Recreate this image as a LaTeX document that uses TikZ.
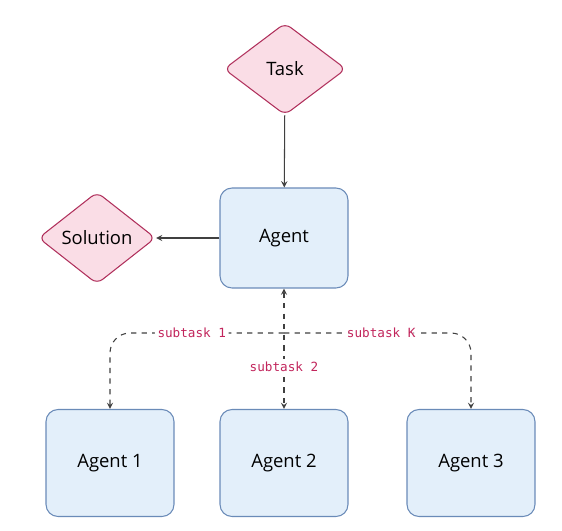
\documentclass[tikz,border=0pt]{standalone}
\usepackage{fontspec}
\setmainfont{Open Sans}
\setmonofont{DejaVu Sans Mono}
\usepackage{xcolor}
\usepackage{tikz}
\usetikzlibrary{shapes.geometric, arrows, positioning}
\definecolor{pinkfill}{HTML}{FADDE6}
\definecolor{pinkline}{HTML}{B0305C}
\definecolor{bluefill}{HTML}{E3EFFA}
\definecolor{blueline}{HTML}{6A8BB8}
\definecolor{labelred}{HTML}{C2255C}
\tikzstyle{decision} = [diamond, rounded corners=4pt, minimum width=2.44cm, minimum height=1.84cm, inner sep=0pt, text centered, draw=pinkline, fill=pinkfill, line width=0.6pt, font=\fontsize{10.5}{12}\selectfont]
\tikzstyle{agentbox} = [rectangle, rounded corners=0.24cm, minimum width=2.56cm, minimum height=2cm, text centered, draw=blueline, fill=bluefill, line width=0.6pt, font=\fontsize{10.5}{12}\selectfont]
\tikzstyle{arrow} = [line width=0.6pt, ->, >=stealth, draw=black!75]
\tikzstyle{dasharrow} = [line width=0.6pt, ->, >=stealth, draw=black!75, dashed]
\tikzstyle{sublabel} = [fill=white, inner sep=1.5pt, text=labelred, font=\ttfamily\fontsize{7.2}{8}\selectfont]

\begin{document}
\begin{tikzpicture}[x=0.02cm, y=-0.02cm]
\useasboundingbox (0,0) rectangle (562,531);

\node (task) [decision] at (285,69) {Task};
\node (agent) [agentbox] at (284,238) {Agent};
\node (solution) [decision, minimum width=2.34cm] at (97,238) {Solution};
\node (agent2) [agentbox, minimum height=2.14cm] at (284,463) {Agent 2};
\node (agent1) [agentbox, minimum height=2.14cm] at (110,463) {Agent 1};
\node (agent3) [agentbox, minimum height=2.14cm] at (471,463) {Agent 3};
\coordinate (split) at (284,333);

\draw [arrow] (task) -- (agent);
\draw [arrow] (agent) -- (solution);
\draw [dasharrow, <->] (agent.south) -- (agent2.north) node [sublabel, pos=0.65] {subtask 2};
\draw [dasharrow, rounded corners=0.4cm] (split) -| (agent1.north) node [sublabel, pos=0.265] {subtask 1};
\draw [dasharrow, rounded corners=0.4cm] (split) -| (agent3.north) node [sublabel, pos=0.26] {subtask K};

\end{tikzpicture}
\end{document}
